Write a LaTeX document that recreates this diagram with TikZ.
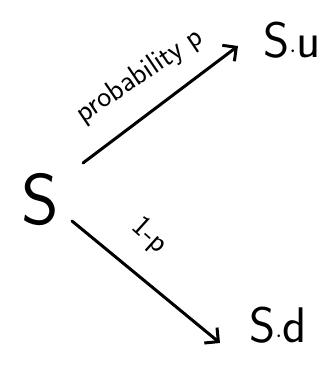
\documentclass[tikz,border=0pt]{standalone}
\usetikzlibrary{arrows.meta}
\begin{document}
\begin{tikzpicture}[x=1pt,y=-1pt,
  ink/.style={line width=3pt,line cap=round,line join=round},
  arr/.style={ink,-{Straight Barb[length=10pt,width=20pt,line width=3pt]}},
  big/.style={font=\sffamily\fontsize{72}{72}\selectfont,inner sep=0pt},
  mid/.style={font=\sffamily\fontsize{50}{50}\selectfont,inner sep=0pt},
  lbl/.style={font=\sffamily\fontsize{30}{30}\selectfont,inner sep=0pt}]
  \useasboundingbox (0,0) rectangle (328,367);
  % states of the one-step tree
  \node[big] (s) at (40,200) {S};
  \node[mid] (su) at (292,40) {S$\cdot$u};
  \node[mid] (sd) at (278,325) {S$\cdot$d};
  % end points of the two branches
  \coordinate (a1) at (83,163);
  \coordinate (b1) at (238,46);
  \coordinate (a2) at (72,221);
  \coordinate (b2) at (220,343);
  \draw[arr] (a1) -- (b1);
  \draw[arr] (a2) -- (b2);
  % branch labels
  \node[lbl,rotate=34] (lp) at (140,76) {probability p};
  \node[lbl,rotate=-42] (lq) at (149,236) {1-p};
\end{tikzpicture}
\end{document}
